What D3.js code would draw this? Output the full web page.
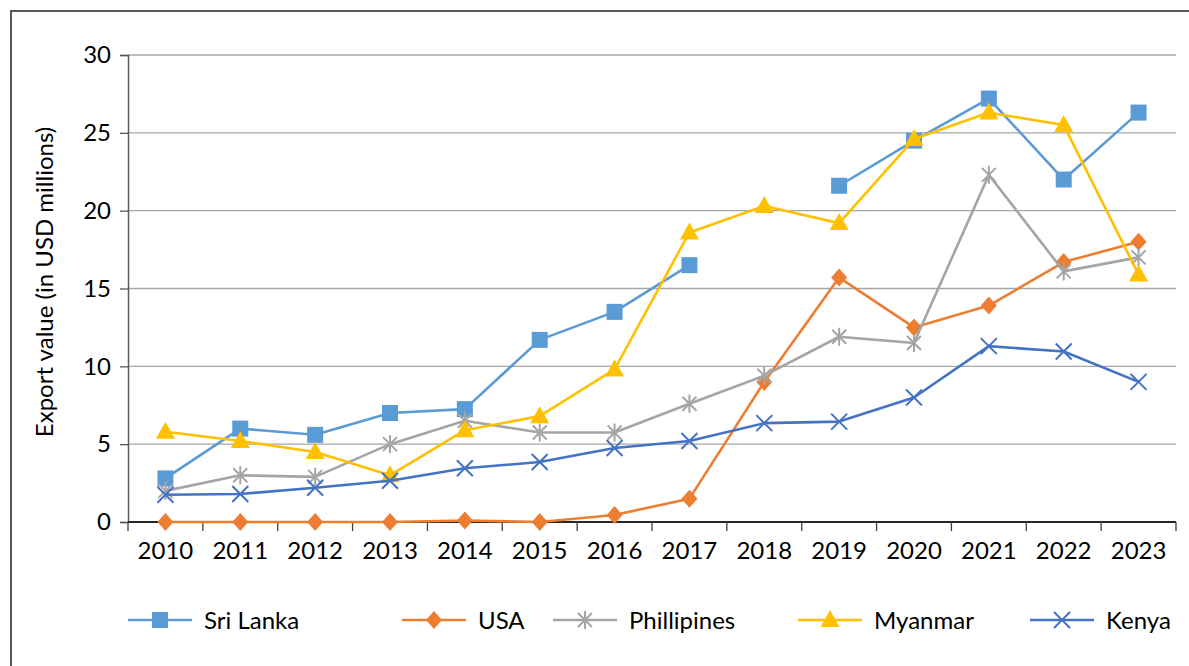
<!DOCTYPE html>
<html>
<head>
<meta charset="utf-8">
<script src="https://cdn.jsdelivr.net/npm/d3@7"></script>
<style>
  body { margin: 0; background: #fff; }
  svg { display: block; font-family: Lato, "Open Sans", sans-serif; }
</style>
</head>
<body>
<div id="chart"></div>
<script>
"use strict";

var years = ["2010", "2011", "2012", "2013", "2014", "2015", "2016", "2017", "2018", "2019", "2020", "2021", "2022", "2023"];
var sriLanka = [2.8, 6.0, 5.6, 7.0, 7.25, 11.7, 13.5, 16.5, null, 21.6, 24.5, 27.2, 22.0, 26.3];
var usa = [0, 0, 0, 0, 0.1, 0, 0.45, 1.5, 9.0, 15.7, 12.5, 13.9, 16.7, 18.0];
var phillipines = [2.0, 3.0, 2.9, 5.0, 6.5, 5.75, 5.75, 7.6, 9.4, 11.9, 11.5, 22.3, 16.1, 17.0];
var myanmar = [5.8, 5.2, 4.5, 3.0, 5.9, 6.8, 9.8, 18.6, 20.3, 19.2, 24.6, 26.3, 25.5, 15.9];
var kenya = [1.75, 1.8, 2.2, 2.65, 3.45, 3.85, 4.75, 5.2, 6.35, 6.45, 8.0, 11.3, 10.95, 9.0];
var yTicks = [0, 5, 10, 15, 20, 25, 30];

var series = [
  { name: "Sri Lanka", values: sriLanka, color: "#5B9BD5", marker: "square" },
  { name: "USA", values: usa, color: "#ED7D31", marker: "diamond" },
  { name: "Phillipines", values: phillipines, color: "#A5A5A5", marker: "star" },
  { name: "Myanmar", values: myanmar, color: "#FFC000", marker: "triangle" },
  { name: "Kenya", values: kenya, color: "#4472C4", marker: "cross" }
];

var width = 1189, height = 666;
var plotLeft = 128, plotRight = 1176, plotTop = 55, plotBottom = 522;

var svg = d3.select("#chart").append("svg")
  .attr("width", width)
  .attr("height", height);

// frame
svg.append("rect")
  .attr("x", 11).attr("y", 11)
  .attr("width", 1200).attr("height", 700)
  .attr("fill", "none")
  .attr("stroke", "#595959")
  .attr("stroke-width", 2);

var x = d3.scaleBand().domain(years).range([plotLeft, plotRight]);
var y = d3.scaleLinear().domain([0, 30]).range([plotBottom, plotTop]);

// gridlines
svg.append("g").selectAll("line")
  .data(yTicks.filter(function(d) { return d > 0; }))
  .enter().append("line")
  .attr("x1", plotLeft).attr("x2", plotRight)
  .attr("y1", function(d) { return y(d); })
  .attr("y2", function(d) { return y(d); })
  .attr("stroke", "#a6a6a6")
  .attr("stroke-width", 1.3);

// y axis
var yAxis = svg.append("g")
  .attr("transform", "translate(" + plotLeft + ",0)")
  .call(d3.axisLeft(y).tickValues(yTicks).tickSize(8).tickPadding(9));
yAxis.select(".domain").attr("stroke", "#595959").attr("stroke-width", 1.5);
yAxis.selectAll(".tick line").attr("stroke", "#595959").attr("stroke-width", 1.3);
yAxis.selectAll("text").attr("font-size", 24).attr("fill", "#000").attr("font-family", "Lato, sans-serif");

// x axis, ticks between categories
var xAxis = svg.append("g")
  .attr("transform", "translate(0," + plotBottom + ")");
xAxis.append("line")
  .attr("x1", plotLeft).attr("x2", plotRight)
  .attr("stroke", "#262626").attr("stroke-width", 2.2);
xAxis.selectAll(".tk")
  .data(years.concat(["end"]))
  .enter().append("line")
  .attr("class", "tk")
  .attr("x1", function(d, i) { return plotLeft + i * x.bandwidth(); })
  .attr("x2", function(d, i) { return plotLeft + i * x.bandwidth(); })
  .attr("y1", 0).attr("y2", 9)
  .attr("stroke", "#404040").attr("stroke-width", 1.3);
xAxis.selectAll("text")
  .data(years)
  .enter().append("text")
  .attr("x", function(d) { return x(d) + x.bandwidth() / 2; })
  .attr("y", 37)
  .attr("text-anchor", "middle")
  .attr("font-size", 24)
  .text(function(d) { return d; });

// y label
svg.append("text")
  .attr("transform", "translate(53,282) rotate(-90)")
  .attr("text-anchor", "middle")
  .attr("font-size", 24)
  .text("Export value (in USD millions)");

function drawMarker(g, type, color) {
  if (type === "square") {
    g.append("rect").attr("x", -8).attr("y", -8).attr("width", 16).attr("height", 16)
      .attr("fill", color);
  } else if (type === "diamond") {
    g.append("path").attr("d", "M0,-9L8,0L0,9L-8,0Z").attr("fill", color);
  } else if (type === "triangle") {
    g.append("path").attr("d", "M0,-10L9.5,7L-9.5,7Z").attr("fill", color);
  } else if (type === "star") {
    g.append("path").attr("d", "M-7,-7L7,7M-7,7L7,-7M0,-9L0,9")
      .attr("stroke", color).attr("stroke-width", 2).attr("fill", "none");
  } else if (type === "cross") {
    g.append("path").attr("d", "M-8,-8L8,8M-8,8L8,-8")
      .attr("stroke", color).attr("stroke-width", 2).attr("fill", "none");
  }
}

var line = d3.line()
  .defined(function(d) { return d.v !== null; })
  .x(function(d) { return x(d.year) + x.bandwidth() / 2; })
  .y(function(d) { return y(d.v); });

series.forEach(function(s) {
  var pts = s.values.map(function(v, i) { return { year: years[i], v: v }; });
  svg.append("path")
    .datum(pts)
    .attr("fill", "none")
    .attr("stroke", s.color)
    .attr("stroke-width", 2.6)
    .attr("stroke-linejoin", "round")
    .attr("d", line);
  pts.filter(function(d) { return d.v !== null; }).forEach(function(d) {
    var g = svg.append("g")
      .attr("transform", "translate(" + (x(d.year) + x.bandwidth() / 2) + "," + y(d.v) + ")");
    drawMarker(g, s.marker, s.color);
  });
});

// legend
var legendX = [128, 402, 553, 798, 1030];
var legendY = 620;
series.forEach(function(s, i) {
  var g = svg.append("g").attr("transform", "translate(" + legendX[i] + "," + legendY + ")");
  g.append("line").attr("x1", 0).attr("x2", 64)
    .attr("stroke", s.color).attr("stroke-width", 2.6);
  var m = g.append("g").attr("transform", "translate(32,0)");
  drawMarker(m, s.marker, s.color);
  g.append("text")
    .attr("x", 76).attr("y", 8.5)
    .attr("font-size", 24)
    .text(s.name);
});
</script>
</body>
</html>
